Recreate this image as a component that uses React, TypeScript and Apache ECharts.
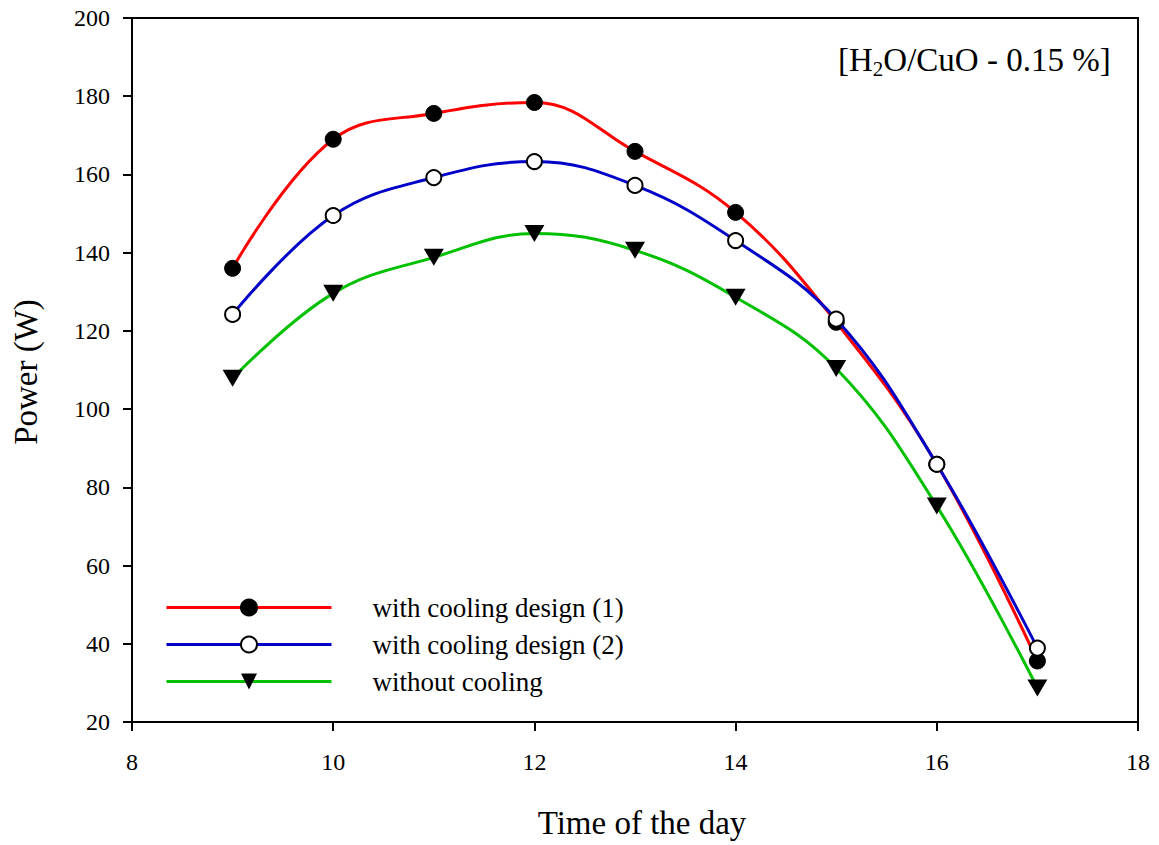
import React, { useEffect, useRef } from "react";
import * as echarts from "echarts";

// Hour of the day for each measurement
const hours = [9, 10, 11, 12, 13, 14, 15, 16, 17];

// Output power (W) of the panel for each configuration
const coolingDesign1 = [136.0, 169.0, 175.6, 178.4, 165.9, 150.3, 122.2, 85.9, 35.6];
const coolingDesign2 = [124.2, 149.5, 159.2, 163.3, 157.2, 143.1, 123.0, 85.9, 38.9];
const withoutCooling = [107.9, 129.6, 138.8, 144.9, 140.6, 128.6, 110.4, 75.2, 28.7];

const seriesNames = ["with cooling design (1)", "with cooling design (2)", "without cooling"];

const FONT = "Liberation Serif";

const toPairs = (ys: number[]) => hours.map((h, i) => [h, ys[i]]);

export default function App() {
  const ref = useRef<HTMLDivElement>(null);

  useEffect(() => {
    if (!ref.current) return;
    const chart = echarts.init(ref.current, undefined, { renderer: "svg" });

    const axisCommon = {
      axisLine: { show: true, lineStyle: { color: "#000", width: 2 } },
      axisTick: { show: true, inside: false, length: 9, lineStyle: { color: "#000", width: 2 } },
      splitLine: { show: false },
    };

    chart.setOption({
      animation: false,
      backgroundColor: "#fff",
      grid: {
        left: 132,
        right: 21,
        top: 18,
        bottom: 123,
        show: true,
        borderColor: "#000",
        borderWidth: 2,
        backgroundColor: "transparent",
      },
      xAxis: {
        type: "value",
        min: 8,
        max: 18,
        interval: 2,
        ...axisCommon,
        axisLabel: { fontFamily: FONT, fontSize: 24, color: "#000", margin: 28 },
      },
      yAxis: {
        type: "value",
        min: 20,
        max: 200,
        interval: 20,
        ...axisCommon,
        axisLabel: { fontFamily: FONT, fontSize: 24, color: "#000", margin: 22 },
      },
      legend: {
        orient: "vertical",
        left: 165,
        top: 594,
        padding: 0,
        itemWidth: 165,
        itemHeight: 20,
        itemGap: 10,
        data: seriesNames,
        lineStyle: { width: 3 },
        textStyle: { fontFamily: FONT, fontSize: 27, color: "#000", padding: [0, 0, 0, 36] },
      },
      graphic: [
        {
          type: "text",
          x: 642,
          y: 823,
          style: {
            text: "Time of the day",
            fontFamily: FONT,
            fontSize: 33,
            fill: "#000",
            textAlign: "center",
            textVerticalAlign: "middle",
          },
        },
        {
          type: "text",
          x: 26,
          y: 372,
          rotation: Math.PI / 2,
          style: {
            text: "Power (W)",
            fontFamily: FONT,
            fontSize: 33,
            fill: "#000",
            textAlign: "center",
            textVerticalAlign: "middle",
          },
        },
        {
          type: "text",
          x: 838,
          y: 60,
          style: {
            text: "[H{sub|2}O/CuO - 0.15 %]",
            fontFamily: FONT,
            fontSize: 33,
            fill: "#000",
            textAlign: "left",
            textVerticalAlign: "middle",
            rich: {
              sub: { fontFamily: FONT, fontSize: 21, fill: "#000", padding: [17, 0, 0, 0] },
            },
          },
        },
      ],
      series: [
        {
          name: seriesNames[0],
          type: "line",
          data: toPairs(coolingDesign1),
          smooth: 0.4,
          z: 3,
          symbol: "circle",
          symbolSize: 16,
          lineStyle: { color: "#ff0000", width: 3 },
          itemStyle: { color: "#000", borderColor: "#000", borderWidth: 1 },
        },
        {
          name: seriesNames[1],
          type: "line",
          data: toPairs(coolingDesign2),
          smooth: 0.4,
          z: 4,
          symbol: "circle",
          symbolSize: 15,
          lineStyle: { color: "#0000c8", width: 3 },
          itemStyle: { color: "#fff", borderColor: "#000", borderWidth: 2 },
        },
        {
          name: seriesNames[2],
          type: "line",
          data: toPairs(withoutCooling),
          smooth: 0.4,
          z: 2,
          symbol: "triangle",
          symbolSize: [20, 17],
          symbolRotate: 180,
          lineStyle: { color: "#00c000", width: 3 },
          itemStyle: { color: "#000", borderColor: "#000", borderWidth: 0 },
        },
      ],
    });

    return () => chart.dispose();
  }, []);

  return (
    <div
      ref={ref}
      style={{ position: "absolute", left: 0, top: 0, width: 1159, height: 845, background: "#fff" }}
    />
  );
}
